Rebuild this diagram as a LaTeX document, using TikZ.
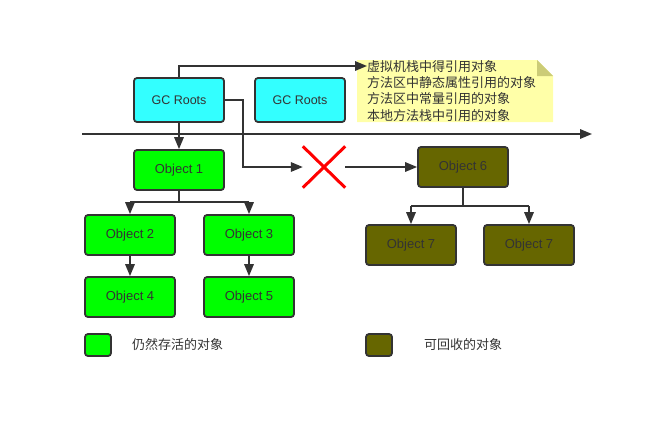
\documentclass[tikz,border=0pt]{standalone}
\usepackage{fontspec}
\setmainfont{Liberation Sans}
\newfontfamily\cjk{Noto Sans CJK SC}
\usetikzlibrary{arrows.meta}
\definecolor{cyanfill}{HTML}{33FFFF}
\definecolor{greenfill}{HTML}{00FF00}
\definecolor{olivefill}{HTML}{666600}
\definecolor{edge}{HTML}{333333}
\definecolor{notefill}{HTML}{FFFFA8}
\definecolor{notefold}{HTML}{CCCC77}
\begin{document}
\begin{tikzpicture}[x=1pt,y=-1pt,
  box/.style={draw=edge,line width=1.8pt,rounded corners=3pt,minimum width=90pt,minimum height=40pt,inner sep=0pt,text=edge,font=\fontsize{13}{15}\selectfont},
  gcbox/.style={box,fill=cyanfill,minimum height=44pt,font=\fontsize{12.5}{15}\selectfont},
  livebox/.style={box,fill=greenfill},
  deadbox/.style={box,fill=olivefill},
  legbox/.style={draw=edge,line width=1.8pt,rounded corners=3pt,minimum width=26pt,minimum height=22pt,inner sep=0pt},
  conn/.style={draw=edge,line width=1.7pt,-{Triangle[length=12pt,width=9.5pt]}},
  plain/.style={draw=edge,line width=1.7pt},
  legtext/.style={anchor=west,text=edge,font=\cjk\fontsize{13}{15}\selectfont,inner sep=0pt}
]
\useasboundingbox (0,0) rectangle (650,426);
% note
\fill[notefill] (357,60) -- (537,60) -- (553,76) -- (553,122) -- (357,122) -- cycle;
\fill[notefold] (537,60) -- (553,76) -- (537,76) -- cycle;
\node[anchor=north west,align=left,inner sep=0pt,text=edge,font=\cjk\fontsize{13}{16.4}\selectfont] (note) at (367,60)
{虚拟机栈中得引用对象\\方法区中静态属性引用的对象\\方法区中常量引用的对象\\本地方法栈中引用的对象};
\coordinate (notein) at (367,66);

% nodes
\node[gcbox] (gc1) at (179,100) {GC Roots};
\node[gcbox] (gc2) at (300,100) {GC Roots};
\node[livebox] (o1) at (179,170) {Object 1};
\node[livebox] (o2) at (130,235) {Object 2};
\node[livebox] (o3) at (249,235) {Object 3};
\node[livebox] (o4) at (130,297) {Object 4};
\node[livebox] (o5) at (249,297) {Object 5};
\node[deadbox] (o6) at (463,167) {Object 6};
\node[deadbox] (o7a) at (411,245) {Object 7};
\node[deadbox] (o7b) at (529,245) {Object 7};

% red cross
\node[minimum width=42pt,minimum height=41pt,inner sep=0pt] (x) at (324,167) {};
\draw[red,line width=3pt] (x.north west) -- (x.south east) (x.north east) -- (x.south west);

% horizontal divider
\coordinate (hl) at (82,134);
\coordinate (hr) at (592,134);
\draw[conn] (hl) -- (hr);

% connectors
\draw[conn] (gc1.north) |- (notein);
\draw[conn] (gc1.south) -- (o1.north);
\draw[conn] (gc1.east) -| (243,167) -- (x.west);
\draw[conn] (x.east) -- (o6.west);

\draw[plain] (o1.south) -- (179,202);
\draw[plain] (130,202) -- (249,202);
\draw[conn] (o2.north |- 0,202) -- (o2.north);
\draw[conn] (o3.north |- 0,202) -- (o3.north);
\draw[conn] (o2.south) -- (o4.north);
\draw[conn] (o3.south) -- (o5.north);

\draw[plain] (o6.south) -- (463,206);
\draw[plain] (411,206) -- (529,206);
\draw[conn] (o7a.north |- 0,206) -- (o7a.north);
\draw[conn] (o7b.north |- 0,206) -- (o7b.north);

% legend
\node[legbox,fill=greenfill] (lg) at (98,345) {};
\node[legtext] (lgt) at (132,345) {仍然存活的对象};
\node[legbox,fill=olivefill] (ld) at (379,345) {};
\node[legtext] (ldt) at (424,345) {可回收的对象};
\end{tikzpicture}
\end{document}
